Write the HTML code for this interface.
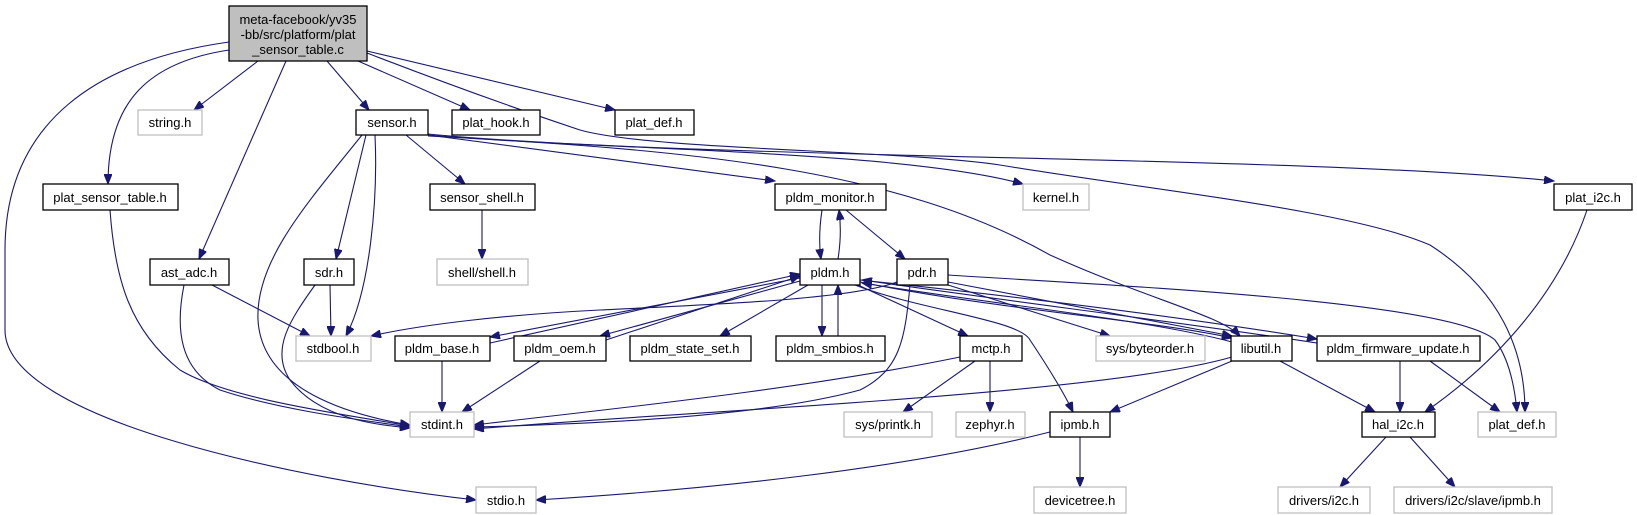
<!DOCTYPE html>
<html><head><meta charset="utf-8"><style>
html,body{margin:0;padding:0;background:#fff;}
svg{display:block;font-family:"Liberation Sans",Arial,sans-serif;}
.e{fill:none;stroke:#191970;stroke-width:1.1;marker-end:url(#a);}
.n rect{fill:#fff;stroke:#000;stroke-width:1.3;}
.g rect{fill:#fff;stroke:#bfbfbf;stroke-width:1.3;}
text{font-size:13px;text-anchor:middle;fill:#000;}
</style></head><body>
<svg width="1637" height="515" viewBox="0 0 1637 515" xmlns="http://www.w3.org/2000/svg">
<defs><marker id="a" markerWidth="11" markerHeight="8" refX="10" refY="4" orient="auto" markerUnits="userSpaceOnUse"><path d="M0,0 L10,4 L0,8 z" fill="#191970" stroke="#191970"/></marker></defs>
<g>
<path class="e" d="M229,42 C100,60 5,120 5,250 L5,330 C5,420 300,480 476,500"/>
<path class="e" d="M229,50 C150,62 108,100 108,184"/>
<path class="e" d="M258,61 L194,110"/>
<path class="e" d="M286,61 L199,259"/>
<path class="e" d="M327,61 L369,110"/>
<path class="e" d="M358,61 L470,110"/>
<path class="e" d="M367,51 L615,110"/>
<path class="e" d="M367,53 C450,85 520,110 580,130 C650,150 900,150 1000,165 C1150,190 1350,210 1430,245 C1500,290 1525,350 1525,412"/>
<path class="e" d="M375,135 C378,200 370,290 346,336"/>
<path class="e" d="M366,135 L336,259"/>
<path class="e" d="M362,135 C310,200 255,260 258,320 C262,390 350,415 410,425"/>
<path class="e" d="M406,135 L465,184"/>
<path class="e" d="M428,135 L775,181"/>
<path class="e" d="M428,135 C600,150 900,150 1023,184"/>
<path class="e" d="M428,134 C700,160 1300,155 1554,181"/>
<path class="e" d="M428,136 C700,150 900,170 1050,255 C1150,300 1220,315 1240,336"/>
<path class="e" d="M482,210 L482,259"/>
<path class="e" d="M110,210 C115,280 130,330 180,370 C230,400 350,415 410,426"/>
<path class="e" d="M212,285 L310,336"/>
<path class="e" d="M184,285 C175,330 180,370 220,390 C280,410 360,420 410,427"/>
<path class="e" d="M330,285 L331,336"/>
<path class="e" d="M315,285 C290,320 270,350 290,380 C320,420 380,425 410,428"/>
<path class="e" d="M822,210 C819,230 819,245 821,259"/>
<path class="e" d="M838,259 C841,240 841,225 839,210"/>
<path class="e" d="M846,210 L905,259"/>
<path class="e" d="M800,278 L490,337"/>
<path class="e" d="M490,343 L800,274"/>
<path class="e" d="M800,281 L600,336"/>
<path class="e" d="M606,340 L800,276"/>
<path class="e" d="M808,285 L720,336"/>
<path class="e" d="M822,285 L822,336"/>
<path class="e" d="M838,336 L838,285"/>
<path class="e" d="M858,285 L968,336"/>
<path class="e" d="M855,285 C920,310 1020,320 1030,340 C1050,370 1065,395 1073,412"/>
<path class="e" d="M860,282 C1000,310 1150,320 1232,338"/>
<path class="e" d="M860,280 C1050,300 1200,320 1317,339"/>
<path class="e" d="M1317,343 C1200,325 1000,300 862,280"/>
<path class="e" d="M1232,342 C1150,320 1000,305 862,283"/>
<path class="e" d="M897,282 C850,300 700,305 600,310 C500,315 420,325 371,336"/>
<path class="e" d="M910,285 C905,340 900,370 860,390 C750,420 550,425 474,427"/>
<path class="e" d="M948,285 L1110,336"/>
<path class="e" d="M948,282 L1232,336"/>
<path class="e" d="M948,275 C1100,285 1450,300 1495,340 C1510,360 1515,390 1517,412"/>
<path class="e" d="M960,357 C800,390 600,410 474,425"/>
<path class="e" d="M975,361 L903,412"/>
<path class="e" d="M990,361 L990,412"/>
<path class="e" d="M1232,357 C1100,395 700,410 474,429"/>
<path class="e" d="M1232,361 L1110,412"/>
<path class="e" d="M1280,361 L1375,412"/>
<path class="e" d="M1400,361 L1400,412"/>
<path class="e" d="M1430,361 L1500,412"/>
<path class="e" d="M1587,210 C1560,290 1500,360 1425,412"/>
<path class="e" d="M442,361 L442,412"/>
<path class="e" d="M540,361 L462,412"/>
<path class="e" d="M1050,432 C900,470 700,490 536,500"/>
<path class="e" d="M1080,437 L1080,487"/>
<path class="e" d="M1386,437 L1340,487"/>
<path class="e" d="M1410,437 L1455,487"/>
</g>
<g class="n"><rect x="229" y="6" width="138" height="55" style="fill:#bfbfbf"/></g>
<text x="298" y="24">meta-facebook/yv35</text><text x="298" y="39">-bb/src/platform/plat</text><text x="298" y="54">_sensor_table.c</text>
<g class="g"><rect x="138" y="110" width="64" height="25"/></g>
<text x="170" y="127">string.h</text>
<g class="n"><rect x="356" y="110" width="72" height="25"/><rect x="452" y="110" width="88" height="25"/><rect x="615" y="110" width="79" height="25"/></g>
<text x="392" y="127">sensor.h</text><text x="496" y="127">plat_hook.h</text><text x="654" y="127">plat_def.h</text>
<g class="n"><rect x="43" y="184" width="135" height="26"/><rect x="430" y="184" width="105" height="26"/><rect x="775" y="184" width="111" height="26"/><rect x="1554" y="184" width="78" height="26"/></g>
<text x="110" y="202">plat_sensor_table.h</text><text x="482" y="202">sensor_shell.h</text><text x="830" y="202">pldm_monitor.h</text><text x="1593" y="202">plat_i2c.h</text>
<g class="g"><rect x="1023" y="184" width="66" height="26"/></g><text x="1056" y="202">kernel.h</text>
<g class="n"><rect x="150" y="259" width="79" height="26"/><rect x="304" y="259" width="50" height="26"/><rect x="800" y="259" width="60" height="26"/><rect x="897" y="259" width="51" height="26"/></g>
<text x="189" y="277">ast_adc.h</text><text x="329" y="277">sdr.h</text><text x="830" y="277">pldm.h</text><text x="922" y="277">pdr.h</text>
<g class="g"><rect x="437" y="259" width="91" height="26"/></g><text x="482" y="277">shell/shell.h</text>
<g class="g"><rect x="296" y="336" width="75" height="25"/><rect x="1096" y="336" width="109" height="25"/></g>
<text x="333" y="353">stdbool.h</text><text x="1150" y="353">sys/byteorder.h</text>
<g class="n"><rect x="395" y="336" width="95" height="25"/><rect x="514" y="336" width="92" height="25"/><rect x="630" y="336" width="121" height="25"/><rect x="776" y="336" width="109" height="25"/><rect x="960" y="336" width="62" height="25"/><rect x="1231" y="336" width="61" height="25"/><rect x="1317" y="336" width="163" height="25"/></g>
<text x="442" y="353">pldm_base.h</text><text x="560" y="353">pldm_oem.h</text><text x="690" y="353">pldm_state_set.h</text><text x="830" y="353">pldm_smbios.h</text><text x="991" y="353">mctp.h</text><text x="1261" y="353">libutil.h</text><text x="1398" y="353">pldm_firmware_update.h</text>
<g class="g"><rect x="410" y="412" width="64" height="25"/><rect x="844" y="412" width="88" height="25"/><rect x="956" y="412" width="69" height="25"/><rect x="1478" y="412" width="78" height="25"/></g>
<text x="442" y="429">stdint.h</text><text x="888" y="429">sys/printk.h</text><text x="990" y="429">zephyr.h</text><text x="1517" y="429">plat_def.h</text>
<g class="n"><rect x="1050" y="412" width="60" height="25"/><rect x="1362" y="412" width="73" height="25"/></g>
<text x="1080" y="429">ipmb.h</text><text x="1398" y="429">hal_i2c.h</text>
<g class="g"><rect x="476" y="487" width="60" height="26"/><rect x="1034" y="487" width="92" height="26"/><rect x="1278" y="487" width="92" height="26"/><rect x="1394" y="487" width="158" height="26"/></g>
<text x="506" y="505">stdio.h</text><text x="1080" y="505">devicetree.h</text><text x="1324" y="505">drivers/i2c.h</text><text x="1473" y="505">drivers/i2c/slave/ipmb.h</text>
</svg>
</body></html>
